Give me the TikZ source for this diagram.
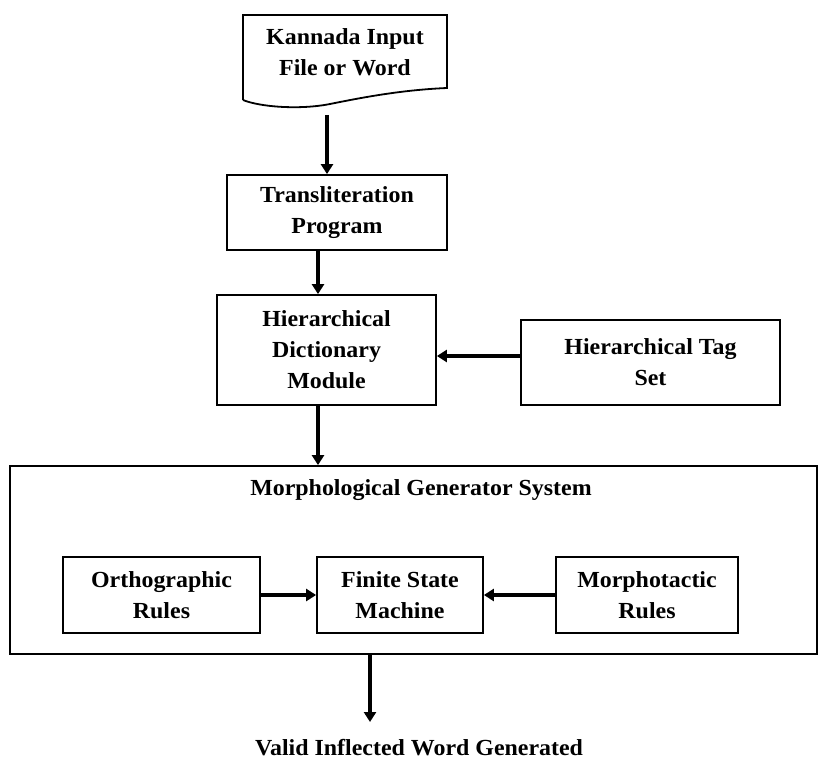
\documentclass[tikz,border=0pt]{standalone}
\usepackage{fontspec}
\setmainfont{Liberation Serif}[FakeStretch=1.04]
\usetikzlibrary{arrows.meta}

\begin{document}
\begin{tikzpicture}[x=1pt, y=-1pt,
	box/.style={draw, line width=1.8pt, align=center, inner sep=0pt},
	lbl/.style={align=center, inner sep=0pt},
	arr/.style={line width=3.4pt, -{Triangle[length=10pt, width=12pt]}},
	every node/.style={font=\fontsize{23}{31}\selectfont\bfseries}]
	% рамка картинки
	\useasboundingbox (0,0) rectangle (819,762);

	% входной документ
	\draw[line width=1.8pt] (243,100) -- (243,15) -- (447,15) -- (447,88)
		.. controls (400,90) and (360,98) .. (330,104)
		.. controls (300,110) and (260,107) .. (243,100);
	\node[lbl] (input) at (345,52) {Kannada Input\\File or Word};
	\coordinate (inEnd) at (327,115);

	% блоки
	\node[box, minimum width=220pt, minimum height=75pt] (trans) at (337,212.5) {Transliteration\\Program};
	\node[box, minimum width=219pt, minimum height=110pt] (dict) at (326.5,350) {Hierarchical\\Dictionary\\Module};
	\node[box, minimum width=259pt, minimum height=85pt] (tagset) at (650.5,362.5) {Hierarchical Tag\\Set};

	% система генератора
	\node[box, minimum width=807pt, minimum height=188pt] (sys) at (413.5,560) {};
	\node[lbl] (sysname) at (421,490) {Morphological Generator System};
	\node[box, minimum width=197pt, minimum height=76pt] (ortho) at (161.5,595) {Orthographic\\Rules};
	\node[box, minimum width=166pt, minimum height=76pt] (fsm) at (400,595) {Finite State\\Machine};
	\node[box, minimum width=182pt, minimum height=76pt] (morpho) at (647,595) {Morphotactic\\Rules};

	% выход
	\node[lbl] (out) at (419,748) {Valid Inflected Word Generated};
	\coordinate (outEnd) at (370,722);

	% стрелки
	\draw[arr] (inEnd) -- (inEnd |- trans.north);
	\draw[arr] ([xshift=-8.5pt]dict.north |- trans.south) -- ([xshift=-8.5pt]dict.north);
	\draw[arr] ([xshift=-8.5pt]dict.south) -- ([xshift=-8.5pt]dict.south |- sys.north);
	\draw[arr] ([yshift=6.5pt]tagset.west) -- ([yshift=6.5pt]tagset.west -| dict.east);
	\draw[arr] (ortho.east) -- (fsm.west);
	\draw[arr] (morpho.west) -- (fsm.east);
	\draw[arr] (outEnd |- sys.south) -- (outEnd);
\end{tikzpicture}
\end{document}
